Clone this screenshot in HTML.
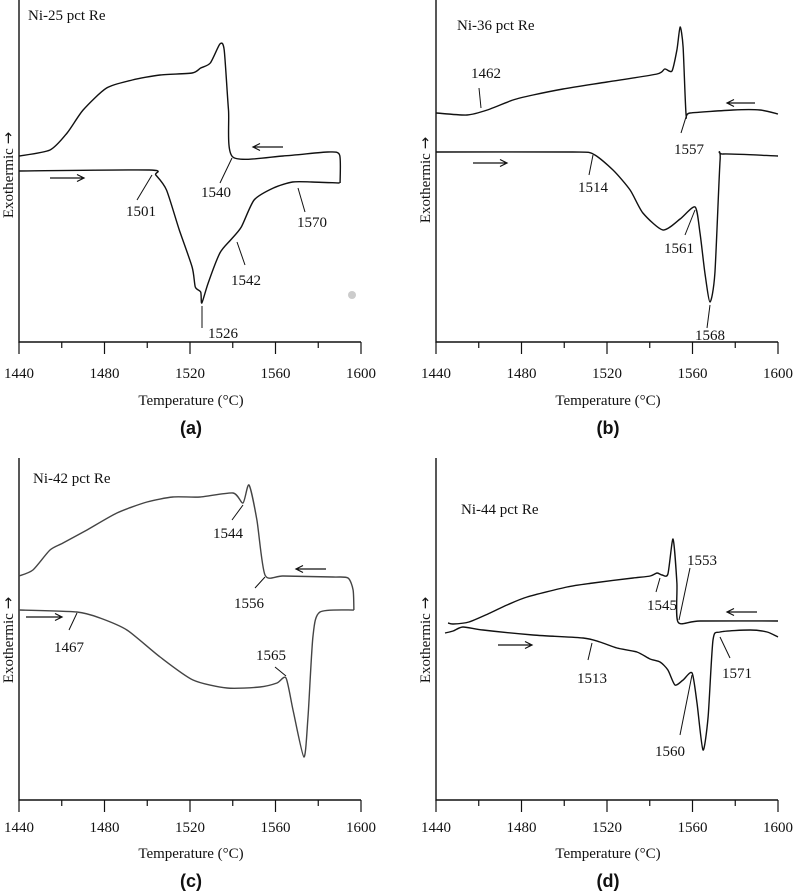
<!DOCTYPE html>
<html><head><meta charset="utf-8"><style>
html,body{margin:0;padding:0;background:#fff;}
svg{display:block;}
text{font-family:"Liberation Serif",serif;fill:#111;}
.bold{font-family:"Liberation Sans",sans-serif;font-weight:bold;}
</style></head><body>
<svg id="fig" width="795" height="894" viewBox="0 0 795 894"></svg>
<script>
// Panel (a) Ni-25 pct Re : temperature (°C) and signal (arbitrary units above axis)
const aCoolT=[1440,1454.5,1462.5,1470,1481,1493,1506,1521,1525,1529.5,1534,1536,1538,1540,1563.5,1584.5,1590,1590.2];
const aCoolV=[186,192,209,232,254,262,267,269,274,279,298,292,232,185,186,190,187,159];
const aHeatT=[1440,1501,1504,1509,1515,1521,1522.5,1525,1525.5,1528.5,1534,1539,1544,1550,1559,1568,1577,1590];
const aHeatV=[171,172,167,152,112,75,55,50,39,59,89,102,115,142,154,160,160,159];
// Panel (b) Ni-36 pct Re
const bCoolT=[1440,1454.5,1464,1476,1485.4,1499.4,1520,1543.4,1547,1550.4,1552.7,1554.2,1555.6,1557,1558.8,1579,1591.6,1600];
const bCoolV=[229,227,232,242,247,253,260,268,273,271,292,315,295,227,229,232,232,228];
const bHeatT=[1440,1504,1513.5,1522.8,1530.8,1536.8,1546.2,1554.2,1561.2,1563.5,1565.8,1568.2,1570.5,1572.9,1574.3,1600];
const bHeatV=[190,190,188,172,152,129,112,123,135,109,69,40,69,182,188,186];
// Panel (c) Ni-42 pct Re
const cCoolT=[1440,1446.5,1454.5,1460.6,1471.8,1485.8,1499.9,1512,1524.7,1540.1,1544.8,1547.6,1551.3,1555.1,1563.5,1586.9,1593.9,1596.3,1596.7];
const cCoolV=[224,230,250,257,270,287,298,303,303,307,297,315,280,225,224,223,222,210,190];
const cHeatT=[1440,1467.1,1477.9,1490.5,1506,1521.4,1537.3,1552.7,1560.7,1564.9,1568.2,1573.3,1575.2,1577.5,1580.8,1596.7];
const cHeatV=[190,188,182,170,143,120,112,113,117,122,90,43,83,163,188,190];
// Panel (d) Ni-44 pct Re
const dCoolT=[1445.6,1448,1455.4,1465.3,1473.2,1482.6,1501.3,1513.5,1532.2,1540.2,1543.4,1545.8,1548.5,1550.9,1552.7,1553.2,1563.5,1600];
const dCoolV=[177,176,178,187,195,203,213,217,222,224,227,225,226,261,217,178,179,179];
const dHeatT=[1444.2,1448,1452.6,1462,1485.4,1508.8,1516.7,1524.7,1534,1540.1,1544.8,1548.5,1551.8,1555.6,1559.8,1562.1,1564.9,1567.3,1569.6,1572.9,1587,1594.9,1600];
const dHeatV=[167,169,173,170,165,162,158,152,148,141,138,130,115,120,127,97,50,83,160,168,170,168,163];
const tickValues=[1440,1460,1480,1500,1520,1540,1560,1580,1600];
const tickLabels=["1440","1480","1520","1560","1600"];

const NS="http://www.w3.org/2000/svg";
const svg=document.getElementById('fig');
function mk(tag,attrs,parent){const e=document.createElementNS(NS,tag);for(const k in attrs)e.setAttribute(k,attrs[k]);(parent||svg).appendChild(e);return e;}
function smooth(pts){
  let d='M'+pts[0][0].toFixed(1)+','+pts[0][1].toFixed(1);
  const k=0.12;
  for(let i=0;i<pts.length-1;i++){
    const p0=pts[i-1]||pts[i],p1=pts[i],p2=pts[i+1],p3=pts[i+2]||p2;
    const c1=[p1[0]+(p2[0]-p0[0])*k,p1[1]+(p2[1]-p0[1])*k];
    const c2=[p2[0]-(p3[0]-p1[0])*k,p2[1]-(p3[1]-p1[1])*k];
    d+='C'+c1.map(v=>v.toFixed(1)).join(',')+' '+c2.map(v=>v.toFixed(1)).join(',')+' '+p2[0].toFixed(1)+','+p2[1].toFixed(1);
  }
  return d;
}

const panels=[
 {id:'a',x0:19,base:342,top:0,title:'Ni-25 pct Re',tx:28,ty:20,ylx:13,yly:175,tickY:378,titY:405,capY:434,stroke:'#111',
  cool:[aCoolT,aCoolV],heat:[aHeatT,aHeatV],
  ann:[['1540',232,158,220,183,216,197],['1501',152,175,137,200,141,216],['1570',298,188,305,212,312,227],['1542',237,242,245,265,246,285],['1526',202,306,202,328,223,338]],
  arrows:[[283,147,253,147],[50,178,84,178]]},
 {id:'b',x0:436,base:342,top:0,title:'Ni-36 pct Re',tx:457,ty:30,ylx:430,yly:180,tickY:378,titY:405,capY:434,stroke:'#111',
  cool:[bCoolT,bCoolV],heat:[bHeatT,bHeatV],
  ann:[['1462',481,108,479,88,486,78],['1557',686,117,681,133,689,154],['1514',593,155,589,175,593,192],['1561',695,210,685,235,679,253],['1568',710,305,707,328,710,340]],
  arrows:[[755,103,727,103],[473,163,507,163]]},
 {id:'c',x0:19,base:800,top:458,title:'Ni-42 pct Re',tx:33,ty:483,ylx:13,yly:640,tickY:832,titY:858,capY:887,stroke:'#444',
  cool:[cCoolT,cCoolV],heat:[cHeatT,cHeatV],
  ann:[['1544',243,505,232,520,228,538],['1556',265,577,255,588,249,608],['1467',77,613,69,630,69,652],['1565',286,676,275,667,271,660]],
  arrows:[[326,569,296,569],[26,617,62,617]]},
 {id:'d',x0:436,base:800,top:458,title:'Ni-44 pct Re',tx:461,ty:514,ylx:430,yly:640,tickY:832,titY:858,capY:887,stroke:'#111',
  cool:[dCoolT,dCoolV],heat:[dHeatT,dHeatV],
  ann:[['1545',660,578,656,592,662,610],['1553',679,620,690,568,702,565],['1513',592,643,588,660,592,683],['1560',692,675,680,735,670,756],['1571',720,637,730,658,737,678]],
  arrows:[[757,612,727,612],[498,645,532,645]]}
];
const SCALE=342/160;
panels.forEach(p=>{
  const g=mk('g',{});
  
  
  const xs=t=>p.x0+(t-1440)*SCALE;
  const ys=v=>p.base-v;
  const x1=xs(1600);
  const ax=mk('path',{d:`M${p.x0},${p.top}V${p.base}H${x1}`,fill:'none',stroke:'#111','stroke-width':1.4},g);
  
  
  tickValues.forEach((t,i)=>{
    const tk=mk('line',{x1:xs(t),x2:xs(t),y1:p.base,y2:p.base+(i%2===0?12:6),stroke:'#111','stroke-width':1.2},g);
    
    
  });
  tickLabels.forEach(l=>{
    const tl=mk('text',{x:xs(+l),y:p.tickY,'text-anchor':'middle','font-size':15},g);
    tl.textContent=l;
    
    
  });
  const xt=mk('text',{x:(p.x0+x1)/2+1,y:p.titY,'text-anchor':'middle','font-size':15},g);
  xt.textContent='Temperature (°C)';
  
  
  const yt=mk('text',{x:p.ylx,y:p.yly,'text-anchor':'middle','font-size':15,transform:`rotate(-90 ${p.ylx} ${p.yly})`},g);
  
  
  const s1=mk('tspan',{},yt); s1.textContent='Exothermic ';
  const s2=mk('tspan',{style:'font-family:"DejaVu Sans",sans-serif','font-size':15},yt); s2.textContent='→';
  const cap=mk('text',{x:(p.x0+x1)/2+1,y:p.capY,'text-anchor':'middle','font-size':18,'class':'bold'},g);
  cap.textContent='('+p.id+')';
  
  
  const ti=mk('text',{x:p.tx,y:p.ty,'font-size':15},g);
  ti.textContent=p.title;
  
  
  [['cooling-curve',p.cool],['heating-curve',p.heat]].forEach(([nm,[T,V]])=>{
    const pts=T.map((t,i)=>[xs(t),ys(V[i])]);
    const pa=mk('path',{d:smooth(pts),fill:'none',stroke:p.stroke,'stroke-width':1.4,'stroke-linejoin':'round'},g);
    
    
  });
  p.ann.forEach(a=>{
    const ln=mk('line',{x1:a[1],y1:a[2],x2:a[3],y2:a[4],stroke:'#111','stroke-width':1},g);
    
    
    const tx=mk('text',{x:a[5],y:a[6],'text-anchor':'middle','font-size':15},g);
    tx.textContent=a[0];
    
    
  });
  p.arrows.forEach((r,i)=>{
    const dir=Math.sign(r[2]-r[0]);
    const ar=mk('path',{d:`M${r[0]},${r[1]}H${r[2]}M${r[2]-dir*7},${r[1]-3.5}L${r[2]},${r[1]}L${r[2]-dir*7},${r[1]+3.5}`,fill:'none',stroke:'#111','stroke-width':1.2},g);
    
    
  });
});
const dot=mk('circle',{cx:352,cy:295,r:4,fill:'#ccc'});


</script>
</body></html>
